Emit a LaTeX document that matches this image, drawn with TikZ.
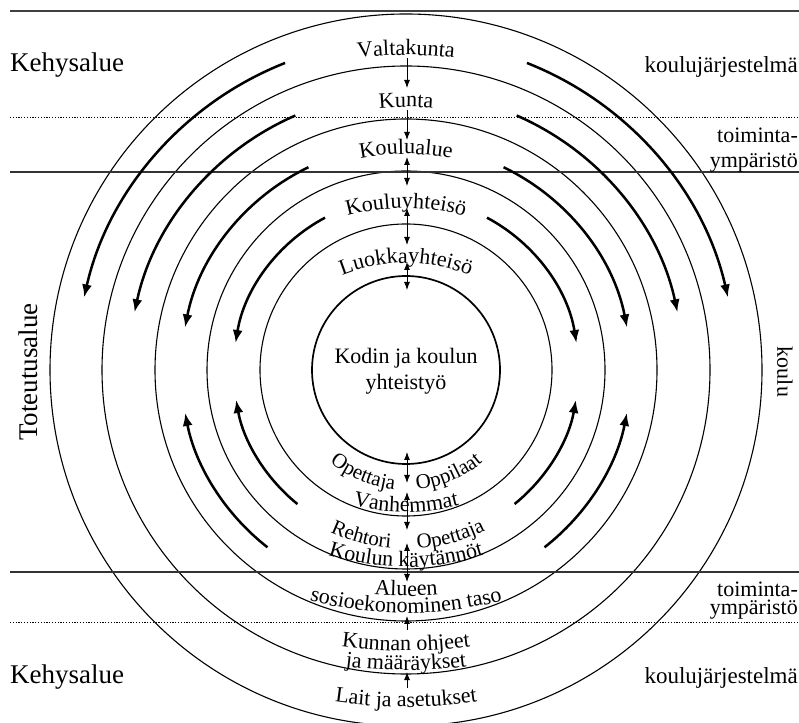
\documentclass[tikz,border=0pt]{standalone}
\usepackage{fontspec}
\setmainfont{Liberation Serif}
\usetikzlibrary{arrows.meta,decorations.text}

\tikzset{
  ring/.style={line width=1.1pt},
  innerring/.style={line width=1.7pt},
  flow/.style={line width=2.5pt, -{Latex[length=13pt,width=10pt]}},
  axis/.style={line width=0.9pt, -{Latex[length=8pt,width=6pt]}},
  axisboth/.style={line width=0.9pt, {Latex[length=8pt,width=6pt]}-{Latex[length=8pt,width=6pt]}},
  band/.style={line width=1.4pt, black!80},
  bandtop/.style={line width=2pt, black!75},
  zone/.style={line width=0.9pt, dash pattern=on 1.2pt off 1.6pt},
  lbl/.style={font=\fontsize{22}{24}\selectfont, inner sep=0pt},
  sidelbl/.style={font=\fontsize{23}{25}\selectfont, inner sep=0pt},
  biglbl/.style={font=\fontsize{27}{29}\selectfont, inner sep=0pt},
}

% text on an arch above a baseline point (#1 = baseline y, #2 = curvature radius,
% #3 = half angle of the carrying arc, #4 = text)
\newcommand\toparc[4]{%
  \path[decorate, decoration={text along path, text align=center,
      text={|\fontsize{22}{24}\selectfont|#4}}]
    ([shift={(90+#3:#2)}]406,#1-#2) arc[start angle=90+#3, end angle=90-#3, radius=#2];}
% text on a sagging arc (smile)
\newcommand\botarc[4]{%
  \path[decorate, decoration={text along path, text align=center,
      text={|\fontsize{22}{24}\selectfont|#4}}]
    ([shift={(270-#3:#2)}]406,#1+#2) arc[start angle=270-#3, end angle=270+#3, radius=#2];}
% text on a circle about the common centre (#1 = radius, #2 = mid angle, #3 = half angle)
\newcommand\ringtext[4]{%
  \path[decorate, decoration={text along path, text align=center,
      text={|\fontsize{21}{23}\selectfont|#4}}]
    ([shift={(#2-#3:#1)}]406,352) arc[start angle=#2-#3, end angle=#2+#3, radius=#1];}
% thick circulation arrow inside a ring
\newcommand\flowarc[3]{%
  \draw[flow] ([shift={(#2:#1)}]406,352) arc[start angle=#2, end angle=#3, radius=#1];}

\begin{document}
\begin{tikzpicture}[x=1pt,y=1pt]
\useasboundingbox (0,0) rectangle (799,722);
\clip (0,0) rectangle (799,722);

% common centre
\coordinate (C) at (406,352);

% concentric circles
\draw[innerring] (C) circle[radius=94];
\foreach \r in {146,199,251,304,356} \draw[ring] (C) circle[radius=\r];

% horizontal band limits
\coordinate (tl) at (10,711);  \coordinate (tr) at (799,711);
\coordinate (d1l) at (10,605); \coordinate (d1r) at (799,605);
\coordinate (s1l) at (10,550); \coordinate (s1r) at (799,550);
\coordinate (s2l) at (10,150); \coordinate (s2r) at (799,150);
\coordinate (d2l) at (10,100); \coordinate (d2r) at (799,100);
\draw[bandtop] (tl) -- (tr);
\draw[zone] (d1l) -- (d1r);
\draw[band] (s1l) -- (s1r);
\draw[band] (s2l) -- (s2r);
\draw[zone] (d2l) -- (d2r);

% circulation arrows, upper half
\flowarc{330}{111.5}{167.3}
\flowarc{277.5}{113.5}{168}
\flowarc{225}{115.7}{169.1}
\flowarc{172.5}{118}{171}
\flowarc{330}{68.5}{12.7}
\flowarc{277.5}{66.5}{12}
\flowarc{225}{64.3}{10.9}
\flowarc{172.5}{62}{9}
% circulation arrows, lower half
\flowarc{225}{232}{191}
\flowarc{172.5}{231}{190}
\flowarc{225}{308}{349}
\flowarc{172.5}{309}{350}

% side labels
\node[biglbl, anchor=base west] (kehysT) at (10,650) {Kehysalue};
\node[biglbl, anchor=base west] (kehysB) at (10,39) {Kehysalue};
\node[biglbl, rotate=90] (toteutus) at (28,350) {Toteutusalue};
\node[lbl, rotate=-90] (koulu) at (785,350) {koulu};
\node[sidelbl, anchor=base east] (kjT) at (798,649) {koulujärjestelmä};
\node[sidelbl, anchor=base east] (kjB) at (798,39) {koulujärjestelmä};
\node[lbl, anchor=base east] (toimT) at (798,579) {toiminta-};
\node[lbl, anchor=base east] (ympT) at (798,554) {ympäristö};
\node[lbl, anchor=base east] (toimB) at (798,125) {toiminta-};
\node[lbl, anchor=base east] (ympB) at (798,107) {ympäristö};

% centre
\node[lbl, align=center] (core) at (406,351) {Kodin ja koulun\\[2pt]yhteistyö};

% labels along the upper axis
\toparc{667}{380}{25}{Valtakunta}
\toparc{615}{300}{25}{Kunta}
\toparc{568}{240}{30}{Koulualue}
\toparc{514}{220}{40}{Kouluyhteisö}
\toparc{459}{170}{55}{Luokkayhteisö}

% labels along the lower axis
\ringtext{120}{247.5}{22}{Opettaja}
\ringtext{120}{292.5}{22}{Oppilaat}
\botarc{210}{220}{35}{Vanhemmat}
\ringtext{179}{255}{14}{Rehtori}
\ringtext{179}{285}{15}{Opettaja}
\botarc{155}{260}{40}{Koulun käytännöt}
\botarc{126}{380}{15}{Alueen}
\botarc{109}{380}{35}{sosioekonominen taso}
\botarc{71}{500}{20}{Kunnan ohjeet}
\botarc{52}{500}{20}{ja määräykset}
\botarc{15}{500}{20}{Lait ja asetukset}

% vertical links on the axis
\coordinate (a1) at (407,664); \coordinate (a2) at (407,634);
\coordinate (b1) at (407,612); \coordinate (b2) at (407,582);
\coordinate (c1) at (407,565); \coordinate (c2) at (407,536);
\coordinate (d1) at (407,514); \coordinate (d2) at (407,477);
\coordinate (e1) at (407,460); \coordinate (e2) at (407,432);
\coordinate (f1) at (407,270); \coordinate (f2) at (407,239);
\coordinate (g1) at (407,230); \coordinate (g2) at (407,192);
\coordinate (h1) at (407,179); \coordinate (h2) at (407,140);
\coordinate (i1) at (407,92);  \coordinate (i2) at (407,106);
\coordinate (j1) at (407,34);  \coordinate (j2) at (407,50);
\draw[axis] (a1) -- (a2);
\draw[axis] (b1) -- (b2);
\draw[axisboth] (c1) -- (c2);
\draw[axisboth] (d1) -- (d2);
\draw[axisboth] (e1) -- (e2);
\draw[axisboth] (f1) -- (f2);
\draw[axisboth] (g1) -- (g2);
\draw[axisboth] (h1) -- (h2);
\draw[axis] (i1) -- (i2);
\draw[axis] (j1) -- (j2);
\end{tikzpicture}
\end{document}
